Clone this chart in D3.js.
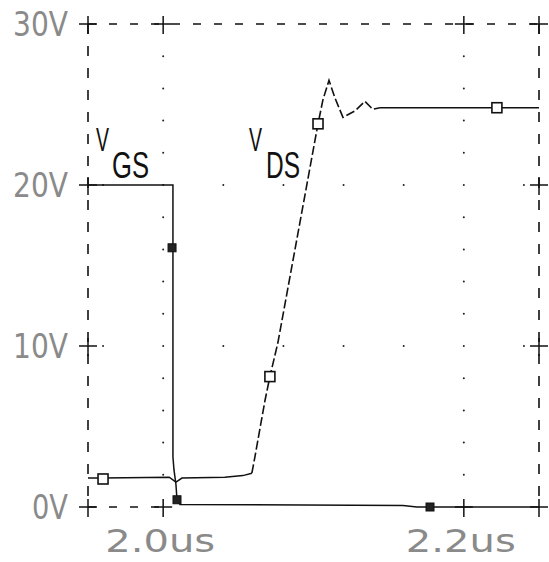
<!DOCTYPE html>
<html><head><meta charset="utf-8">
<script src="https://cdn.jsdelivr.net/npm/d3@7"></script>
<style>html,body{margin:0;padding:0;background:#fff;}svg{display:block;}</style>
</head><body>
<svg id="c" width="549" height="562"></svg>
<script>
// ---- data ----
const yTickValues = [0, 10, 20, 30];
const yTickLabels = ["0V", "10V", "20V", "30V"];
const xTickValues = [2.0, 2.2];
const xTickLabels = ["2.0us", "2.2us"];

const vgsTime  = [1.95, 2.0065, 2.0065, 2.0072, 2.0085, 2.0092, 2.0112, 2.1595, 2.1688, 2.25];
const vgsValue = [20,   20,     3.1,    2.3,    1.4,    0.45,   0.15,   0.1,    0.0,    0.0];
const vgsMarkT = [2.0059, 2.0092, 2.1775];
const vgsMarkV = [16.1,   0.45,   0.0];

const vdsTime  = [1.95, 1.96, 2.004, 2.0085, 2.0125, 2.041, 2.053, 2.059, 2.061, 2.0677, 2.071, 2.0763, 2.103, 2.1063, 2.1103, 2.1143, 2.1196, 2.1276, 2.1342, 2.1395, 2.1442, 2.25];
const vdsValue = [1.8,  1.8,  1.85,  1.55,   1.8,    1.85,  1.95,  2.1,   3.1,   6.6,    8.1,   10.2,   23.8,  25.3,   26.5,   25.4,   24.2,   24.6,   25.2,   24.7,   24.8,   24.8];
const vdsMarkT = [1.96, 2.071, 2.103, 2.222];
const vdsMarkV = [1.74, 8.1,   23.8,  24.8];

// ---- drawing ----
const svg = d3.select("#c");
const x = d3.scaleLinear().domain([1.95, 2.25]).range([88, 539]);
const y = d3.scaleLinear().domain([0, 30]).range([507, 24]);
const [x0, x1] = x.range();
const [yb, yt] = y.range();
const ink = "#111";

// grid dots
const g = svg.append("g");
const dotPts = [];
xTickValues.forEach(t => d3.range(2, 30, 2).forEach(v => dotPts.push([t, v])));
[10, 20].forEach(v => d3.range(-1, 7).forEach(k => {
  const t = 2.0 + k * 0.04;
  if (!xTickValues.some(a => Math.abs(a - t) < 1e-6)) dotPts.push([t, v]);
}));
g.selectAll("circle.dot").data(dotPts).join("circle")
  .attr("cx", d => x(d[0])).attr("cy", d => y(d[1])).attr("r", 1).attr("fill", "#222");

// frame (dashed)
const frame = svg.append("g").attr("stroke", ink).attr("stroke-width", 1.6).attr("fill", "none");
frame.append("line").attr("x1", x0).attr("x2", x1).attr("y1", yt).attr("y2", yt).attr("stroke-dasharray", "8,13");
frame.append("line").attr("x1", x0).attr("x2", x(2.0)).attr("y1", yb).attr("y2", yb).attr("stroke-dasharray", "8,13");
frame.append("line").attr("x1", x0).attr("x2", x0).attr("y1", yt).attr("y2", yb).attr("stroke-dasharray", "10,12");
frame.append("line").attr("x1", x1).attr("x2", x1).attr("y1", yt).attr("y2", yb).attr("stroke-dasharray", "10,12");

// plus ticks
const plusPts = [];
[1.95, 2.25].forEach(t => yTickValues.forEach(v => plusPts.push([t, v])));
xTickValues.forEach(t => [0, 30].forEach(v => plusPts.push([t, v])));
const pg = svg.append("g").attr("stroke", ink).attr("stroke-width", 1.5);
plusPts.forEach(p => {
  const cx = x(p[0]), cy = y(p[1]);
  pg.append("line").attr("x1", cx - 9).attr("x2", cx + 9).attr("y1", cy).attr("y2", cy);
  pg.append("line").attr("x1", cx).attr("x2", cx).attr("y1", cy - 8).attr("y2", cy + 10);
});

// traces
const line = d3.line().x(d => x(d[0])).y(d => y(d[1]));
const vgs = vgsTime.map((t, i) => [t, vgsValue[i]]);
const vds = vdsTime.map((t, i) => [t, vdsValue[i]]);
svg.append("path").datum(vgs).attr("d", line).attr("fill", "none").attr("stroke", ink).attr("stroke-width", 1.5);
// VDS: flat parts solid, fast transition drawn broken as in the plot
const riseStart = 7, riseEnd = 20;
svg.append("path").datum(vds.slice(0, riseStart + 1)).attr("d", line).attr("fill", "none").attr("stroke", ink).attr("stroke-width", 1.5);
svg.append("path").datum(vds.slice(riseStart, riseEnd + 1)).attr("d", line).attr("fill", "none").attr("stroke", ink).attr("stroke-width", 1.6).attr("stroke-dasharray", "9,3");
svg.append("path").datum(vds.slice(riseEnd)).attr("d", line).attr("fill", "none").attr("stroke", ink).attr("stroke-width", 1.5);

// markers
svg.selectAll("rect.vgsm").data(vgsMarkT.map((t, i) => [t, vgsMarkV[i]])).join("rect")
  .attr("x", d => x(d[0]) - 4).attr("y", d => y(d[1]) - 4).attr("width", 8).attr("height", 8)
  .attr("fill", "#222").attr("stroke", ink).attr("stroke-width", 1);
svg.selectAll("rect.vdsm").data(vdsMarkT.map((t, i) => [t, vdsMarkV[i]])).join("rect")
  .attr("x", d => x(d[0]) - 5).attr("y", d => y(d[1]) - 5).attr("width", 10).attr("height", 10)
  .attr("fill", "#fff").attr("stroke", ink).attr("stroke-width", 1.6);

// axis labels
const lab = svg.append("g").attr("font-family", "'DejaVu Sans', sans-serif").attr("fill", "#8a8a8a")
  .attr("font-size", 33);
yTickValues.forEach((v, i) => {
  const s = yTickLabels[i];
  const w = s.length === 2 ? 36 : 55;
  lab.append("text").attr("x", 68 - w).attr("y", y(v) + 12)
    .attr("textLength", w).attr("lengthAdjust", "spacingAndGlyphs").text(s);
});
xTickValues.forEach((t, i) => {
  lab.append("text").attr("x", x(t) - 58).attr("y", 552).attr("font-size", 32)
    .attr("textLength", 110).attr("lengthAdjust", "spacingAndGlyphs").text(xTickLabels[i]);
});

// series names
const nm = svg.append("g").attr("fill", ink);
function seriesName(vx, sub, subx, subw) {
  nm.append("text").attr("x", vx).attr("y", 151).attr("font-size", 33)
    .attr("font-family", "'Liberation Sans', sans-serif")
    .attr("textLength", 13).attr("lengthAdjust", "spacingAndGlyphs").text("V");
  nm.append("text").attr("x", subx).attr("y", 178).attr("font-size", 37)
    .attr("font-family", "'Liberation Sans', sans-serif")
    .attr("textLength", subw).attr("lengthAdjust", "spacingAndGlyphs").text(sub);
}
seriesName(96, "GS", 112, 37);
seriesName(249, "DS", 266, 34);
</script>
</body></html>
